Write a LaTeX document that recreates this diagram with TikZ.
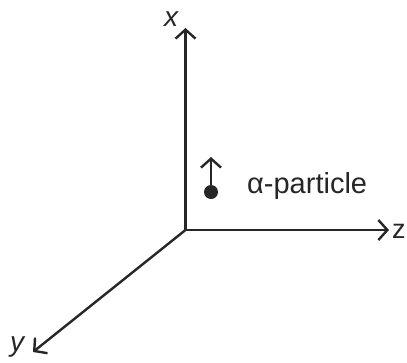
\documentclass[tikz,border=0pt]{standalone}
\usepackage{fontspec}
\setmainfont{Liberation Sans}
\usetikzlibrary{arrows.meta}

\begin{document}
\begin{tikzpicture}[x=1pt,y=-1pt]
\tikzstyle{axis}=[line width=2.4pt,draw=black!85,-{Straight Barb[length=9pt,width=20pt,line width=2.4pt]}]
\tikzstyle{lbl}=[inner sep=0pt,text=black!85,font=\fontsize{29}{33}\selectfont]
\useasboundingbox (0,0) rectangle (407,362);

\coordinate (O) at (185.5,230);
\coordinate (xend) at (185.5,28);
\coordinate (yend) at (33,352);
\coordinate (zend) at (389,230);

\draw[axis] (O) -- (xend);
\draw[axis] (O) -- (zend);
\draw[axis] (O) -- (yend);

\node[lbl,font=\fontsize{28}{32}\selectfont\itshape] (xlab) at (171,19) {x};
\node[lbl,font=\fontsize{28}{32}\selectfont\itshape] (ylab) at (17,347) {y};
\node[lbl,anchor=west,font=\fontsize{27}{31}\selectfont] (zlab) at (392,231) {z};

\node[circle,fill=black!85,inner sep=0pt,minimum size=14pt] (alpha) at (211,192) {};
\coordinate (vtop) at (211,157);
\draw[axis] (alpha.north) -- (vtop);
\node[lbl,anchor=base west] (alab) at (247,193) {α-particle};
\end{tikzpicture}
\end{document}
